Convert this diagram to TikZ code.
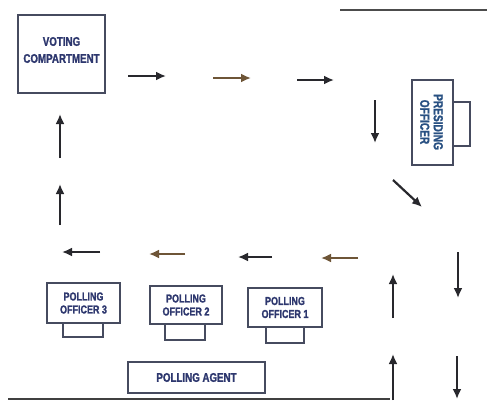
\documentclass[tikz,border=0pt]{standalone}
\usepackage{fontspec}
\setmainfont{Liberation Sans}
\newfontfamily\condfont[FakeStretch=0.78,FakeBold=1.5]{Liberation Sans Bold}
\usetikzlibrary{arrows.meta}
\definecolor{boxline}{RGB}{70,75,95}
\definecolor{txtc}{RGB}{45,55,110}
\definecolor{txtp}{RGB}{40,80,130}
\definecolor{arrc}{RGB}{40,40,45}
\definecolor{arrb}{RGB}{110,85,55}
\tikzset{
  x=1pt,y=-1pt,
  box/.style={draw=boxline,line width=1.4pt,fill=white,inner sep=1pt,align=center,
    text=txtc,font=\condfont\fontsize{11.5}{13}\selectfont},
  tab/.style={draw=boxline,line width=1.4pt,fill=white,inner sep=0pt},
  lbl/.style={align=center,text=txtc,font=\condfont\fontsize{11.5}{13}\selectfont},
  arr/.style={draw=arrc,line width=2.2pt,-{Latex[length=10pt,width=9pt]}},
  arrw/.style={arr,draw=arrb},
  rule/.style={line width=2.6pt}
}
\begin{document}
\begin{tikzpicture}
\useasboundingbox[fill=white] (0,0) rectangle (487,405);
% borders
\draw[rule,draw=black!75] (8,399) -- (390,399);
\draw[rule,draw=black!70] (340,10) -- (487,10);
% voting compartment
\node[box,minimum width=87pt,minimum height=78pt] (vc) at (61.5,54) {};
\node[lbl,font=\condfont\fontsize{12.5}{17}\selectfont] (vcl) at (61.5,50) {VOTING\\COMPARTMENT};
% presiding officer
\node[tab,minimum width=20pt,minimum height=44pt] (pot) at (460,124) {};
\node[box,minimum width=41pt,minimum height=85pt] (po) at (432.5,122.5) {};
\node[lbl,rotate=-90,text=txtp,font=\condfont\fontsize{13}{13.5}\selectfont] (pol) at (431.5,122) {PRESIDING\\OFFICER};
% polling officers
\node[tab,minimum width=40pt,minimum height=16pt] (t3) at (83,329) {};
\node[box,minimum width=73pt,minimum height=40pt] (p3) at (83.5,303) {POLLING\\OFFICER 3};
\node[tab,minimum width=40pt,minimum height=18pt] (t2) at (185,331) {};
\node[box,minimum width=72pt,minimum height=38pt] (p2) at (186,305) {POLLING\\OFFICER 2};
\node[tab,minimum width=38pt,minimum height=18pt] (t1) at (285,334) {};
\node[box,minimum width=74pt,minimum height=39pt] (p1) at (285,307.5) {POLLING\\OFFICER 1};
% polling agent
\node[box,minimum width=137pt,minimum height=31pt,font=\condfont\fontsize{12.5}{14}\selectfont] (pa) at (196.5,377.5) {POLLING AGENT};
% arrow coordinates
\coordinate (a1s) at (128,76);  \coordinate (a1e) at (166,76);
\coordinate (a2s) at (213,78);  \coordinate (a2e) at (251,78);
\coordinate (a3s) at (297,80);  \coordinate (a3e) at (334,80);
\coordinate (a4s) at (375,100); \coordinate (a4e) at (375,143);
\coordinate (a5s) at (393,180); \coordinate (a5e) at (422,207);
\coordinate (a6s) at (458,252); \coordinate (a6e) at (458,298);
\coordinate (a7s) at (393,318); \coordinate (a7e) at (393,274);
\coordinate (a8s) at (393,400); \coordinate (a8e) at (393,354);
\coordinate (a9s) at (457,356); \coordinate (a9e) at (457,399);
\coordinate (b1s) at (358,258); \coordinate (b1e) at (321,258);
\coordinate (b2s) at (272,257); \coordinate (b2e) at (238,257);
\coordinate (b3s) at (185,254); \coordinate (b3e) at (149,254);
\coordinate (b4s) at (100,252); \coordinate (b4e) at (62,252);
\coordinate (c1s) at (60,225);  \coordinate (c1e) at (60,184);
\coordinate (c2s) at (60,158);  \coordinate (c2e) at (60,114);
\draw[arr] (a1s) -- (a1e);
\draw[arrw] (a2s) -- (a2e);
\draw[arr] (a3s) -- (a3e);
\draw[arr] (a4s) -- (a4e);
\draw[arr] (a5s) -- (a5e);
\draw[arr] (a6s) -- (a6e);
\draw[arr] (a7s) -- (a7e);
\draw[arr] (a8s) -- (a8e);
\draw[arr] (a9s) -- (a9e);
\draw[arrw] (b1s) -- (b1e);
\draw[arr] (b2s) -- (b2e);
\draw[arrw] (b3s) -- (b3e);
\draw[arr] (b4s) -- (b4e);
\draw[arr] (c1s) -- (c1e);
\draw[arr] (c2s) -- (c2e);
\end{tikzpicture}
\end{document}
